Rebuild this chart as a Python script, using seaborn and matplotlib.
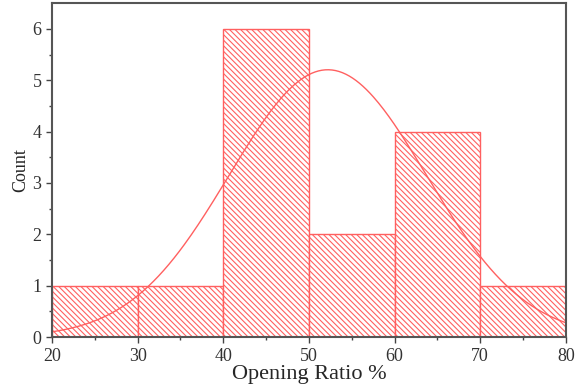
import numpy as np
import pandas as pd
import matplotlib
matplotlib.use("Agg")
import matplotlib.pyplot as plt
import seaborn as sns

# histogram bins (Opening Ratio %) and counts
bin_edges = [20, 30, 40, 50, 60, 70, 80]
counts = [1, 1, 6, 2, 4, 1]

# normal fit
fit_mean = 52.2
fit_sd = 11.5

x_ticks = [20, 30, 40, 50, 60, 70, 80]
y_ticks = [0, 1, 2, 3, 4, 5, 6]

sns.set_style("ticks")
plt.rcParams['font.family'] = ['Liberation Serif', 'DejaVu Serif']
plt.rcParams['hatch.linewidth'] = 0.8
plt.rcParams['hatch.color'] = '#ff8c8c'

red = '#ff6060'
centers = [(a + b) / 2 for a, b in zip(bin_edges[:-1], bin_edges[1:])]
df = pd.DataFrame({'ratio': centers, 'n': counts})

fig = plt.figure(figsize=(5.78, 3.92), dpi=100)
ax = fig.add_axes([0.09, 0.14, 0.889, 0.852])

sns.histplot(data=df, x='ratio', weights='n', bins=bin_edges, ax=ax,
             fill=True, facecolor='white', edgecolor=red, linewidth=1.0,
             alpha=1.0, hatch='\\' * 6)

# fitted normal curve scaled to counts
n_total = sum(counts)
width = bin_edges[1] - bin_edges[0]
xs = np.linspace(bin_edges[0], bin_edges[-1], 300)
ys = n_total * width * np.exp(-(xs - fit_mean) ** 2 / (2 * fit_sd ** 2)) / (fit_sd * np.sqrt(2 * np.pi))
sns.lineplot(x=xs, y=ys, ax=ax, color=red, linewidth=1.0)

ax.set_xlim(20, 80)
ax.set_ylim(0, 6.5)
ax.set_xticks(x_ticks)
ax.set_yticks(y_ticks)
ax.set_xticks(np.arange(25, 80, 10), minor=True)
ax.set_yticks(np.arange(0.5, 6.5, 1), minor=True)
ax.tick_params(which='major', direction='out', length=4, width=1, color='#444444',
               labelsize=13, labelcolor='#333333')
ax.tick_params(which='minor', direction='out', length=2, width=1, color='#444444')
for s in ax.spines.values():
    s.set_visible(True)
    s.set_color('#555555')
    s.set_linewidth(1.5)

ax.set_xlabel('Opening Ratio %', fontsize=16, labelpad=0)
ax.set_ylabel('Count', fontsize=13, labelpad=2)

fig.savefig('out.png', dpi=100)
